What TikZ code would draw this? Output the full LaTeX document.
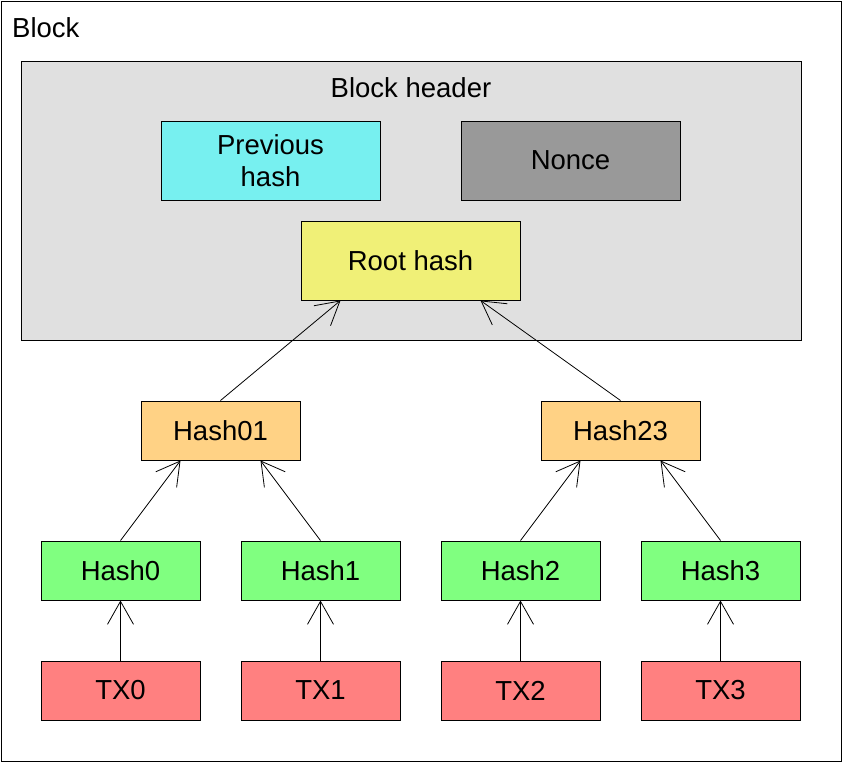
\documentclass[tikz,border=0pt]{standalone}
\usepackage{fontspec}
\setmainfont{Liberation Sans}
\usetikzlibrary{arrows.meta}
\definecolor{hdr}{HTML}{E0E0E0}
\definecolor{cyanb}{HTML}{77F0F0}
\definecolor{grayb}{HTML}{999999}
\definecolor{yelb}{HTML}{F0F077}
\definecolor{orab}{HTML}{FFD285}
\definecolor{greb}{HTML}{80FF80}
\definecolor{redb}{HTML}{FF8080}
\begin{document}
\begin{tikzpicture}[x=1pt,y=-1pt,
  every node/.style={font=\fontsize{27.5}{32}\selectfont},
  box/.style={draw=black,line width=1pt,inner sep=0pt,align=center},
  wide/.style={box,minimum width=219pt,minimum height=79pt},
  small/.style={box,minimum width=159pt,minimum height=59pt},
  conn/.style={line width=0.8pt,-{Straight Barb[length=23pt,width=26pt,line width=0.8pt]}}]
\useasboundingbox (0,0) rectangle (843,763);
\draw[line width=1pt,fill=white] (1,1) rectangle (841,761);
\node[anchor=base west,inner sep=0pt] (blk) at (12,37) {Block};
\draw[line width=1pt,fill=hdr] (21,61) rectangle (801,340);
\node[anchor=base,inner sep=0pt] (bh) at (411,97) {Block header};
\node[wide,fill=cyanb] (prev) at (270.5,160.5) {\raisebox{-1pt}{\parbox{200pt}{\centering Previous\\hash}}};
\node[wide,fill=grayb] (nonce) at (570.5,160.5) {Nonce};
\node[wide,fill=yelb] (root) at (410.5,260.5) {Root hash};
\node[small,fill=orab] (h01) at (220.5,430.5) {Hash01};
\node[small,fill=orab] (h23) at (620.5,430.5) {Hash23};
\node[small,fill=greb] (h0) at (120.5,570.5) {Hash0};
\node[small,fill=greb] (h1) at (320.5,570.5) {Hash1};
\node[small,fill=greb] (h2) at (520.5,570.5) {Hash2};
\node[small,fill=greb] (h3) at (720.5,570.5) {Hash3};
\node[small,fill=redb] (t0) at (120.5,690.5) {TX0};
\node[small,fill=redb] (t1) at (320.5,690.5) {TX1};
\node[small,fill=redb] (t2) at (520.5,690.5) {TX2};
\node[small,fill=redb] (t3) at (720.5,690.5) {TX3};
\draw[conn] (h01.north) -- ([xshift=-70pt]root.south);
\draw[conn] (h23.north) -- ([xshift=70pt]root.south);
\draw[conn] (h0.north) -- ([xshift=-40pt]h01.south);
\draw[conn] (h1.north) -- ([xshift=40pt]h01.south);
\draw[conn] (h2.north) -- ([xshift=-40pt]h23.south);
\draw[conn] (h3.north) -- ([xshift=40pt]h23.south);
\draw[conn] (t0.north) -- (h0.south);
\draw[conn] (t1.north) -- (h1.south);
\draw[conn] (t2.north) -- (h2.south);
\draw[conn] (t3.north) -- (h3.south);
\end{tikzpicture}
\end{document}
